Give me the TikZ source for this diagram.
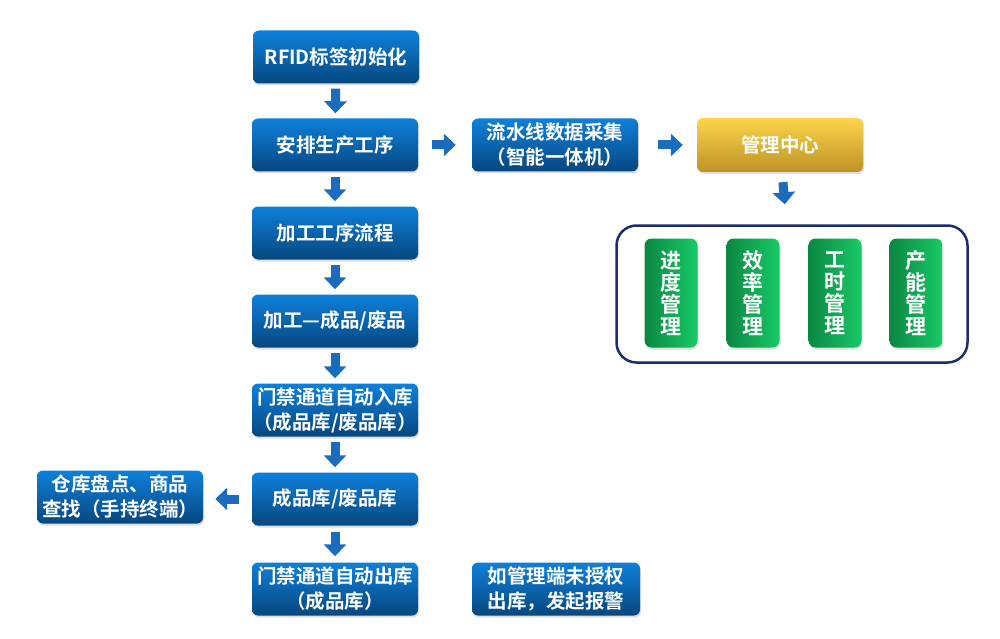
\documentclass[tikz,border=0pt]{standalone}
\usepackage{fontspec}
\setmainfont{Noto Sans CJK SC}[BoldFont={Noto Sans CJK SC Bold}]
\usetikzlibrary{arrows.meta,shadows}
\definecolor{bluetop}{HTML}{0E80DA}
\definecolor{bluebot}{HTML}{06477F}
\definecolor{goldtop}{HTML}{FCD54A}
\definecolor{goldbot}{HTML}{BE9226}
\definecolor{greenL}{HTML}{0B8742}
\definecolor{greenM}{HTML}{16C35F}
\definecolor{greenR}{HTML}{18CA66}
\definecolor{navy}{HTML}{1B2E6B}
\definecolor{arrowblue}{HTML}{1A6CBE}
\begin{document}
\begin{tikzpicture}[x=1pt,y=-1pt,
  base/.style={rounded corners=6pt, text=white, align=center,
    font=\fontsize{19.5}{25}\selectfont\bfseries, inner sep=0pt,
    drop shadow={opacity=0.25, shadow xshift=1pt, shadow yshift=-2pt}},
  bluebox/.style={base, top color=bluetop, bottom color=bluebot,
    minimum width=166pt, minimum height=53pt},
  goldbox/.style={base, top color=goldtop, bottom color=goldbot,
    minimum width=166pt, minimum height=54pt},
  greenbox/.style={base, rounded corners=7pt, left color=greenL, middle color=greenM, right color=greenR,
    minimum width=53pt, minimum height=109pt, font=\fontsize{21}{22}\selectfont\bfseries},
  container/.style={draw=navy, line width=2.5pt, rounded corners=20pt, fill=white,
    minimum width=351pt, minimum height=137pt},
  barrow/.style={draw=arrowblue, line width=9pt, -{Triangle[width=22pt,length=12pt]}},
]
\useasboundingbox (0,0) rectangle (1000,639);

% main column
\node[bluebox] (b1) at (336,57) {RFID标签初始化};
\node[bluebox] (b2) at (335,145) {安排生产工序};
\node[bluebox] (b3) at (335,233) {加工工序流程};
\node[bluebox] (b4) at (335,321) {加工—成品/废品};
\node[bluebox] (b5) at (335,410) {门禁通道自动入库\\（成品库/废品库）};
\node[bluebox] (b6) at (335,499) {成品库/废品库};
\node[bluebox] (b7) at (335,589) {门禁通道自动出库\\（成品库）};

% side boxes
\node[bluebox] (lf) at (120,497) {仓库盘点、商品\\查找（手持终端）};
\node[bluebox] (c1) at (555,145) {流水线数据采集\\（智能一体机）};
\node[goldbox] (gd) at (780,145) {管理中心};
\node[bluebox, minimum width=168pt] (al) at (556,589) {如管理端未授权\\出库，发起报警};

% container with green boxes
\node[container] (ct) at (792,294) {};
\node[greenbox] (g1) at (671,293) {进\\度\\管\\理};
\node[greenbox] (g2) at (753,293) {效\\率\\管\\理};
\node[greenbox] (g3) at (835,293) {工\\时\\管\\理};
\node[greenbox] (g4) at (916,293) {产\\能\\管\\理};

% arrows
\draw[barrow, shorten <=5pt, shorten >=5pt] (b1) -- (b2);
\draw[barrow, shorten <=5pt, shorten >=5pt] (b2) -- (b3);
\draw[barrow, shorten <=5pt, shorten >=5pt] (b3) -- (b4);
\draw[barrow, shorten <=5pt, shorten >=5pt] (b4) -- (b5);
\draw[barrow, shorten <=5pt, shorten >=5pt] (b5) -- (b6);
\draw[barrow, shorten <=6pt, shorten >=6pt] (b6) -- (b7);
\draw[barrow, shorten <=14pt, shorten >=16pt] (b2) -- (c1);
\draw[barrow, shorten <=20pt, shorten >=14pt] (c1) -- (gd);
\draw[barrow, shorten <=13pt, shorten >=12pt] (b6.west) -- (lf.east |- b6.west);
\draw[barrow, shorten <=10pt, shorten >=20pt] (gd) -- (ct);
\end{tikzpicture}
\end{document}
